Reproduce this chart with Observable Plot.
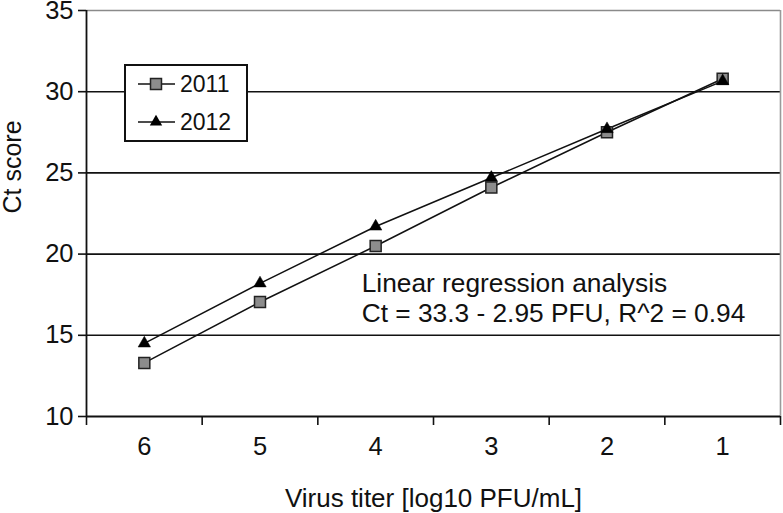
<!DOCTYPE html>
<html><head><meta charset="utf-8">
<script src="https://cdn.jsdelivr.net/npm/d3@7"></script>
<script src="https://cdn.jsdelivr.net/npm/@observablehq/plot@0.6"></script>
<style>
body{margin:0;background:#fff;font-family:"Liberation Sans",Arial,sans-serif;}
#wrap{position:relative;width:783px;height:513px;}
#legend{position:absolute;left:124px;top:64px;width:120px;height:74px;border:2px solid #111;background:#fff;}
#legend svg{display:block;}
</style></head><body><div id="wrap"></div>
<script>
const titers = [6, 5, 4, 3, 2, 1];
const ct2011 = [13.3, 17.05, 20.5, 24.1, 27.5, 30.8];
const ct2012 = [14.5, 18.2, 21.7, 24.7, 27.7, 30.65];
const series = ["2011", "2012"];
const yTicks = [10, 15, 20, 25, 30, 35];
const gridValues = [15, 20, 25, 30];
const boundaryTicks = [6.5, 5.5, 4.5, 3.5, 2.5, 1.5, 0.5];
const annotationLines = ["Linear regression analysis", "Ct = 33.3 - 2.95 PFU, R^2 = 0.94"];
const xLabel = "Virus titer [log10 PFU/mL]";
const yLabel = "Ct score";

const rows2011 = titers.map((t, i) => ({titer: t, ct: ct2011[i], series: series[0]}));
const rows2012 = titers.map((t, i) => ({titer: t, ct: ct2012[i], series: series[1]}));
const rows = rows2011.concat(rows2012);

const ink = "#111";
const squareStyle = {fill: "#8c8c8c", stroke: "#222", strokeWidth: 1.5};

const chart = Plot.plot({
  width: 783, height: 513,
  marginLeft: 86, marginRight: 3, marginTop: 10, marginBottom: 97,
  style: {fontFamily: "'Liberation Sans', Arial, sans-serif", fontSize: "25.5px", color: ink, background: "#fff"},
  x: {type: "linear", domain: [6.5, 0.5]},
  y: {domain: [10, 35]},
  marks: [
    Plot.ruleY(gridValues, {stroke: ink, strokeWidth: 1.6}),
    Plot.ruleY([35], {stroke: "#8a8a8a", strokeWidth: 1.6}),
    Plot.ruleX([0.5], {stroke: "#9a9a9a", strokeWidth: 1.6}),
    Plot.axisY({ticks: yTicks, tickSize: 8, tickPadding: 5, tickFormat: d => String(d), label: null, stroke: ink, strokeWidth: 1.6}),
    Plot.axisX({ticks: titers, tickSize: 0, tickPadding: 20, tickFormat: d => String(d), label: null}),
    Plot.axisX({ticks: boundaryTicks, tickSize: 9, tickFormat: () => "", label: null, stroke: ink, strokeWidth: 1.6}),
    Plot.ruleX([6.5], {stroke: ink, strokeWidth: 1.8}),
    Plot.ruleY([10], {stroke: ink, strokeWidth: 1.8}),
    Plot.line(rows, {x: "titer", y: "ct", z: "series", stroke: ink, strokeWidth: 1.5}),
    Plot.dot(rows2011, {x: "titer", y: "ct", symbol: "square", r: 6.2, ...squareStyle}),
    Plot.dot(rows2012, {x: "titer", y: "ct", symbol: "triangle", r: 4.6, fill: "#000", stroke: "#000", strokeWidth: 0.5}),
    Plot.text([annotationLines.join("\n")], {x: 4, y: 15.82, dx: -14, text: d => d, textAnchor: "start", lineAnchor: "bottom", lineHeight: 1.14, fill: ink, fontSize: 26.3}),
    Plot.text([xLabel], {frameAnchor: "bottom", dy: 90, text: d => d, lineAnchor: "bottom", fill: ink, fontSize: 26}),
    Plot.text([yLabel], {frameAnchor: "left", dx: -66, rotate: -90, text: d => d, lineAnchor: "bottom", fill: ink, fontSize: 25})
  ]
});
const wrap = document.getElementById("wrap");
wrap.appendChild(chart);

// legend box overlaid on the plot area
const legend = document.createElement("div");
legend.id = "legend";
wrap.appendChild(legend);
const svg = d3.select(legend).append("svg").attr("width", 120).attr("height", 74);
const rowY = [18, 56];
series.forEach((s, i) => {
  const g = svg.append("g").attr("transform", `translate(0,${rowY[i]})`);
  g.append("line").attr("x1", 12).attr("x2", 49).attr("stroke", ink).attr("stroke-width", 1.5);
  if (i === 0) {
    g.append("path").attr("transform", "translate(30,0)").attr("d", d3.symbol(d3.symbolSquare, Math.PI * 6.2 * 6.2)())
      .attr("fill", squareStyle.fill).attr("stroke", squareStyle.stroke).attr("stroke-width", squareStyle.strokeWidth);
  } else {
    g.append("path").attr("transform", "translate(30,0)").attr("d", d3.symbol(d3.symbolTriangle, Math.PI * 4.6 * 4.6)())
      .attr("fill", "#000");
  }
  g.append("text").attr("x", 54).attr("dy", "0.35em").attr("font-size", 23).attr("fill", ink)
    .attr("font-family", "'Liberation Sans', Arial, sans-serif").text(s);
});
</script>
</body></html>
